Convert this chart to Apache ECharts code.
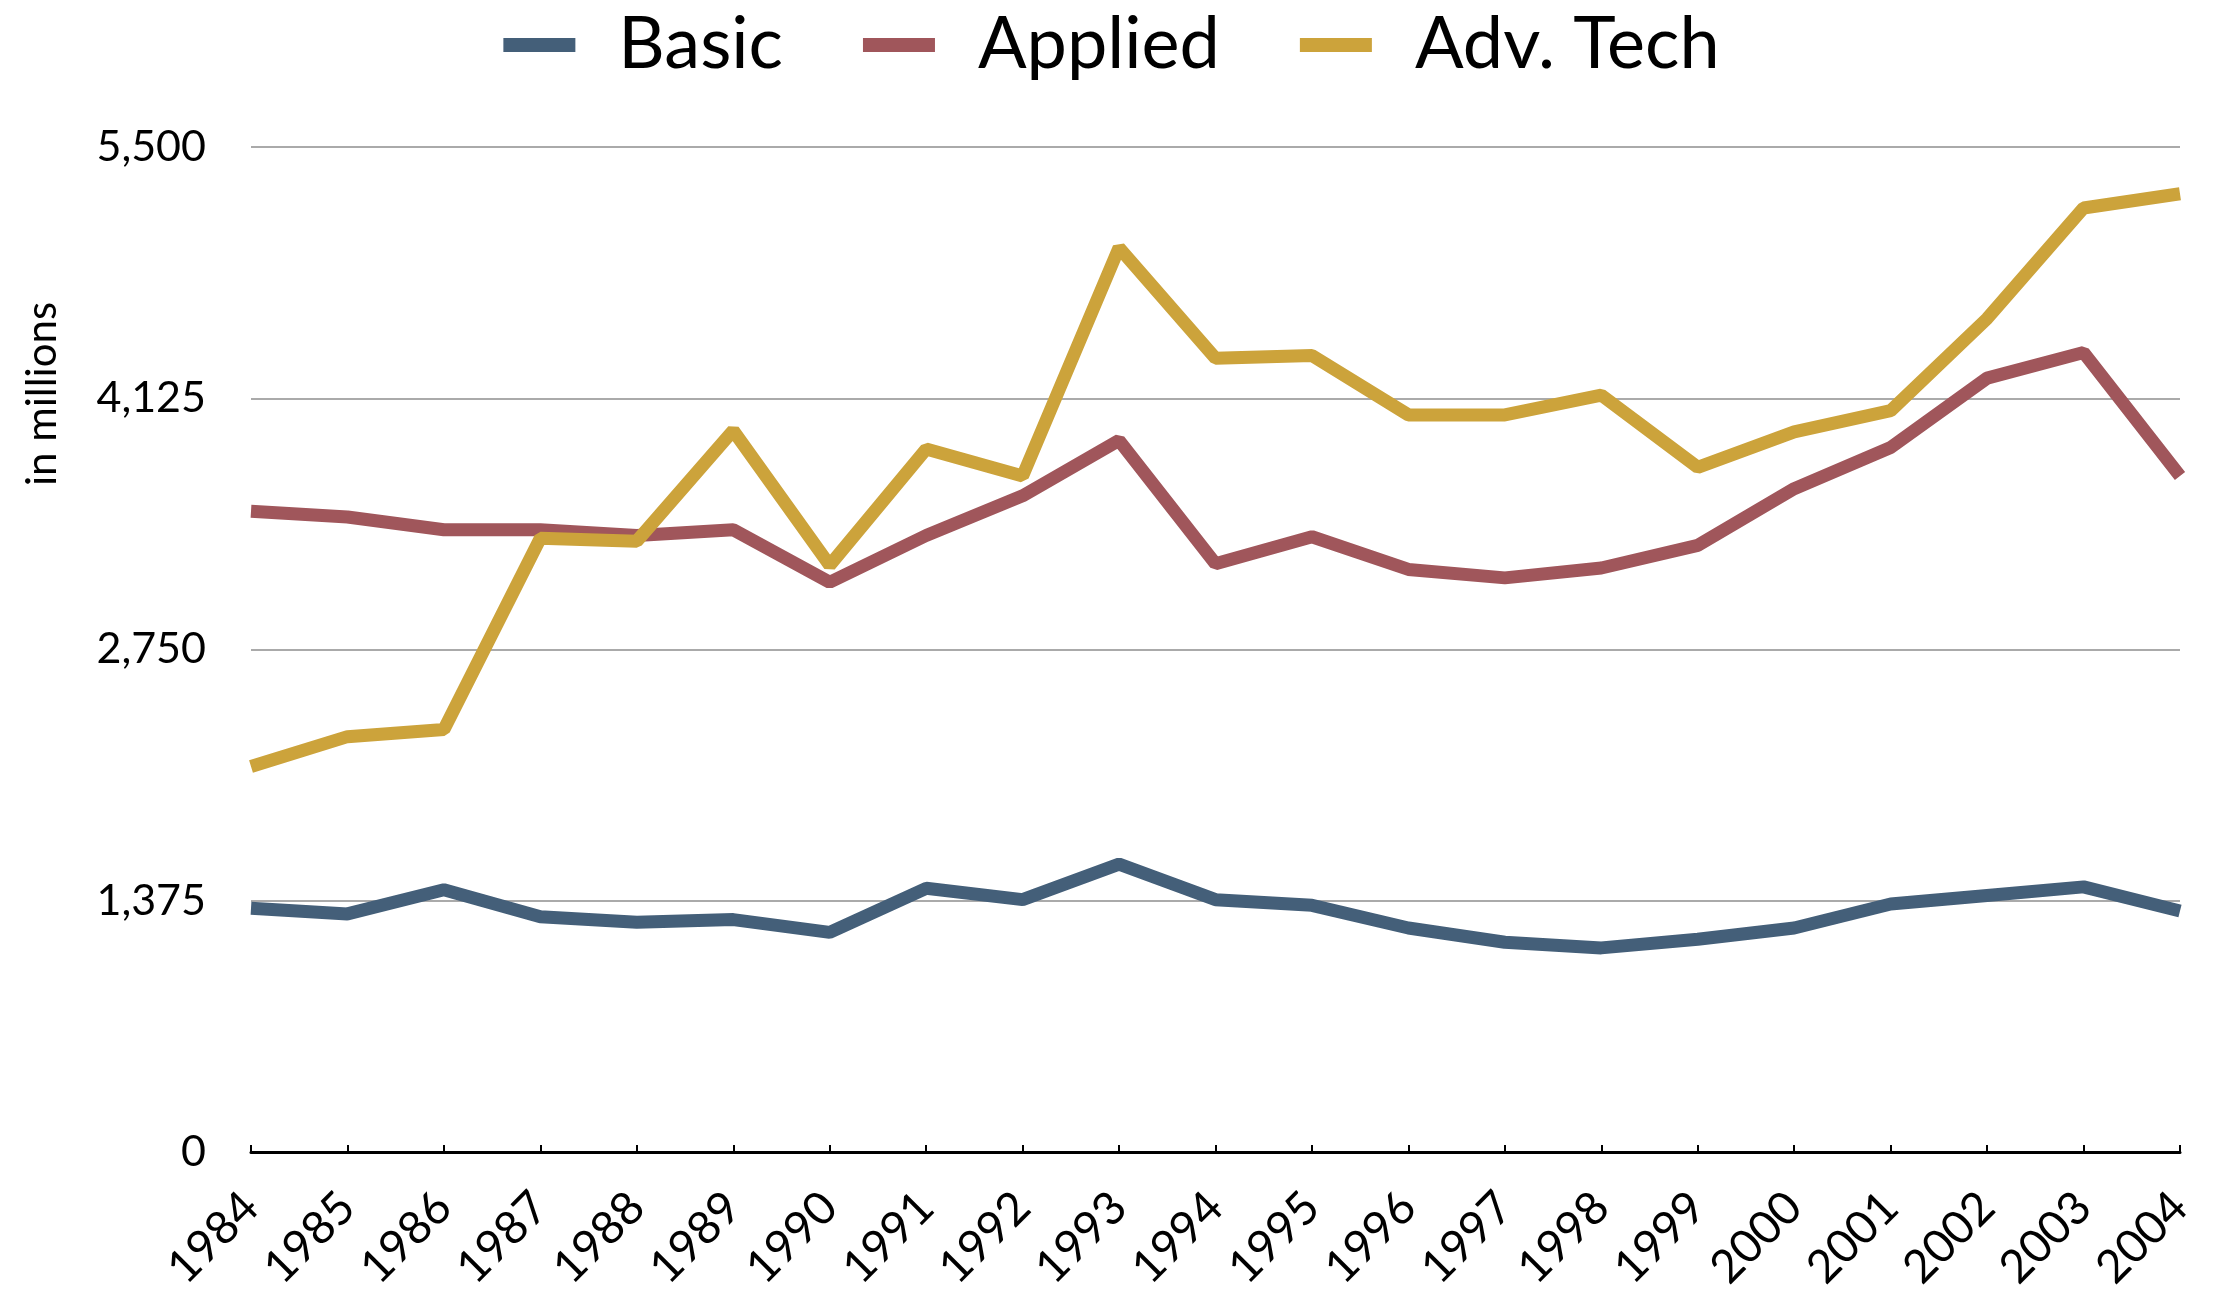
<!DOCTYPE html>
<html>
<head>
<meta charset="utf-8">
<script src="https://cdn.jsdelivr.net/npm/echarts@6/dist/echarts.min.js"></script>
<style>
html,body{margin:0;padding:0;background:#fff;}
#chart{width:2223px;height:1296px;}
</style>
</head>
<body>
<div id="chart"></div>
<script>
const years = ['1984','1985','1986','1987','1988','1989','1990','1991','1992','1993','1994','1995','1996','1997','1998','1999','2000','2001','2002','2003','2004'];
const basic = [1334,1303,1435,1288,1257,1272,1202,1443,1381,1575,1381,1350,1226,1148,1117,1164,1226,1357,1404,1451,1319];
const applied = [3506,3475,3405,3405,3374,3405,3118,3374,3591,3894,3219,3367,3188,3142,3196,3320,3630,3855,4235,4375,3700];
const advTech = [2110,2273,2312,3359,3343,3948,3211,3847,3700,4949,4344,4359,4034,4034,4142,3747,3941,4057,4561,5166,5244];
const yTicks = [0,1375,2750,4125,5500];
const seriesNames = ['Basic','Applied','Adv. Tech'];
const colors = ['#445f79','#a0565b','#cca33b'];
const font = 'Lato, "Open Sans", sans-serif';

const chart = echarts.init(document.getElementById('chart'));
const seriesData = [basic, applied, advTech];
chart.setOption({
  animation: false,
  backgroundColor: '#fff',
  color: colors,
  legend: {
    top: 4,
    left: 'center',
    itemWidth: 72,
    itemHeight: 14,
    itemGap: 80,
    icon: 'rect',
    textStyle: {fontFamily: font, fontSize: 72, color: '#000', padding: [0,0,0,38]},
    data: seriesNames
  },
  grid: {left: 251, right: 43, top: 147, bottom: 144, containLabel: false},
  xAxis: {
    type: 'category',
    data: years,
    boundaryGap: false,
    axisLine: {lineStyle: {color: '#000', width: 3}},
    axisTick: {inside: true, length: 7, lineStyle: {color: '#000', width: 2}},
    axisLabel: {rotate: 45, fontFamily: font, fontSize: 46, color: '#000', margin: 48}
  },
  yAxis: {
    type: 'value',
    min: 0, max: 5500, interval: 1375,
    axisLine: {show: false},
    axisTick: {show: false},
    splitLine: {lineStyle: {color: '#aaaaaa', width: 2}},
    axisLabel: {fontFamily: font, fontSize: 43, color: '#000', margin: 45,
      formatter: v => yTicks.includes(v) ? v.toLocaleString('en-US') : ''}
  },
  graphic: [{
    type: 'text',
    rotation: Math.PI/2,
    x: 42, y: 394,
    style: {text: 'in millions', font: '42px ' + font, fill: '#000', textAlign: 'center', textVerticalAlign: 'middle'}
  }],
  series: seriesNames.map((n,i) => ({
    name: n,
    type: 'line',
    data: seriesData[i],
    symbol: 'none',
    lineStyle: {width: 13, color: colors[i]},
    itemStyle: {color: colors[i]}
  }))
});
</script>
</body>
</html>
